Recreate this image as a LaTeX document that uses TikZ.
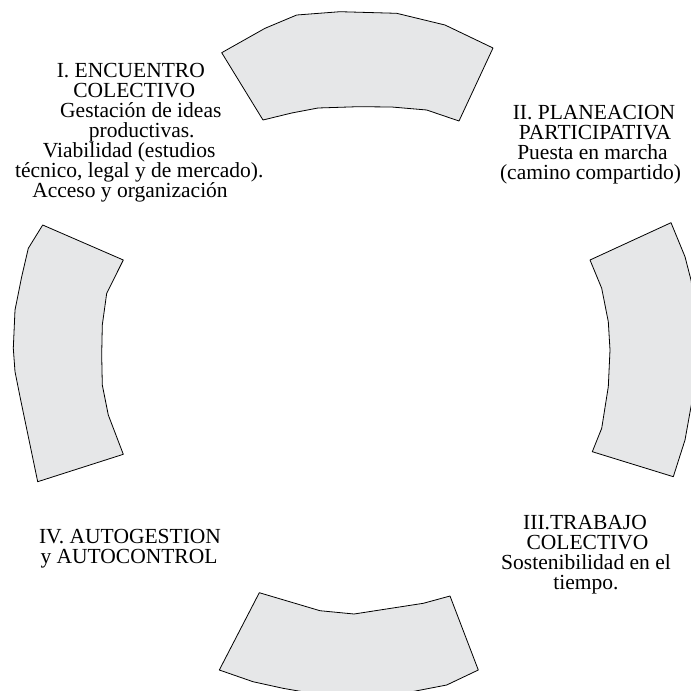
\documentclass[tikz,border=0pt]{standalone}
\usepackage{fontspec}
\setmainfont{Liberation Serif}
\definecolor{segfill}{RGB}{230,231,232}
\tikzset{
  seg/.style={draw=black, line width=0.8pt, fill=segfill, line join=round},
  lbl/.style={anchor=base, inner sep=0pt, font=\fontsize{21.5}{20}\selectfont}
}
\begin{document}
\begin{tikzpicture}[x=1pt,y=-1pt]
\useasboundingbox (0,0) rectangle (691,691);
\begin{scope}
\clip (0,0) rectangle (691,691);
% top segment
\draw[seg] (221.7,52.7) -- (265,28.3) -- (296.7,15) -- (340,11.7) -- (396.7,13.3) -- (445,25) -- (493,48)
  -- (459,121) -- (426.7,110) -- (391.7,107) -- (358,106.7) -- (318,108) -- (291.7,113) -- (263,120) -- cycle;
% right segment
\draw[seg] (590,260) -- (671,222.7) -- (685,256.7) -- (691,280) -- (697,320) -- (699,345) -- (697,375) -- (691,406.7) -- (685,440) -- (673.3,476.7)
  -- (592.3,451.7) -- (601.7,428.3) -- (608.3,386.7) -- (610,350) -- (608.3,321.7) -- (601.7,288.3) -- cycle;
% bottom segment
\draw[seg] (259.3,592.7) -- (320,610.7) -- (354,614) -- (423.3,603.3) -- (450,596) -- (478.3,670)
  -- (446.7,685) -- (400,694) -- (355,697) -- (310,693) -- (283,688.3) -- (253,681.7) -- (219.3,670) -- cycle;
% left segment
\draw[seg] (42.7,225) -- (123.3,260) -- (106.7,293.3) -- (102.3,325) -- (101.7,355) -- (102.3,385) -- (108.3,415) -- (123.3,454.3)
  -- (37.7,481.7) -- (20,396.7) -- (15,371.7) -- (13.3,348.3) -- (15,310) -- (21.7,276.7) -- (28.3,248.3) -- cycle;
\end{scope}
% block I
\node[lbl] (a1) at (130.8,77.5) {I. ENCUENTRO};
\node[lbl] (a2) at (134.2,97.5) {COLECTIVO};
\node[lbl] (a3) at (140.8,117.5) {Gestación de ideas};
\node[lbl] (a4) at (141.7,137.5) {productivas.};
\node[lbl] (a5) at (129.2,157.5) {Viabilidad (estudios};
\node[lbl] (a6) at (139.2,177.5) {técnico, legal y de mercado).};
\node[lbl] (a7) at (130,197.5) {Acceso y organización};
% block II
\node[lbl] (b1) at (594,119.3) {II. PLANEACION};
\node[lbl] (b2) at (595,139.3) {PARTICIPATIVA};
\node[lbl] (b3) at (592.5,159.3) {Puesta en marcha};
\node[lbl] (b4) at (590.5,179.3) {(camino compartido)};
% block III
\node[lbl] (c1) at (585,529.3) {III.TRABAJO};
\node[lbl] (c2) at (587.5,549.3) {COLECTIVO};
\node[lbl] (c3) at (586,569.3) {Sostenibilidad en el};
\node[lbl] (c4) at (586,589.3) {tiempo.};
% block IV
\node[lbl] (d1) at (130,543.3) {IV. AUTOGESTION};
\node[lbl] (d2) at (129,563.3) {y AUTOCONTROL};
\end{tikzpicture}
\end{document}
